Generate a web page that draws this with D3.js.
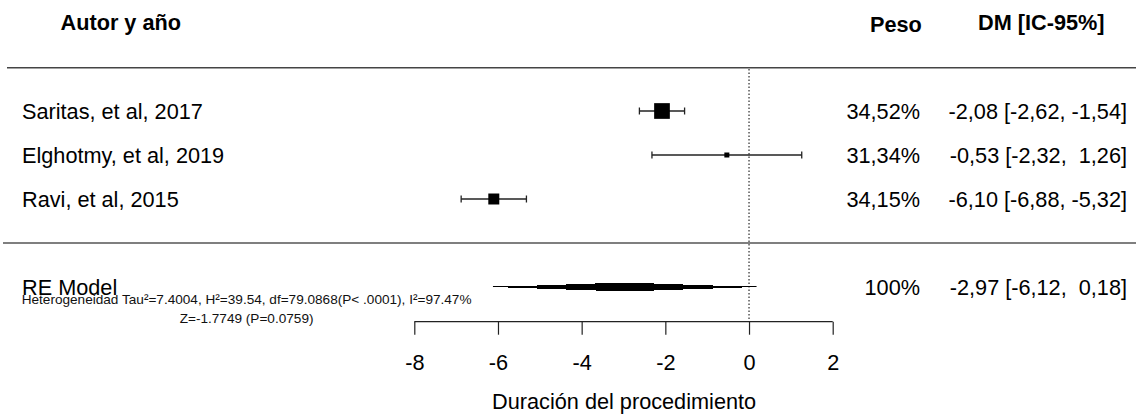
<!DOCTYPE html>
<html>
<meta charset="utf-8">
<head>
  <title>Duración del procedimiento - forest plot</title>
  <style>
    body, html { margin: 0; padding: 0; background: white; }
    svg text { font-family: 'Liberation Sans', Arial, sans-serif; fill: #000; white-space: pre; }
    .big { font-size: 21.7px; }
    .head { font-size: 21.7px; font-weight: 700; }
    .small { font-size: 13.6px; fill: #111; }
    .x_axis path, .x_axis line { stroke: #222; stroke-width: 1.2; }
    .x_axis text { font-size: 21.7px; font-family: 'Liberation Sans', Arial, sans-serif; }
  </style>
  <script src="https://d3js.org/d3.v7.min.js"></script>
</head>
<body>
<div id="chart"></div>
<script>
// study rows
var studies = ["Saritas, et al, 2017", "Elghotmy, et al, 2019", "Ravi, et al, 2015"];
var est     = [-2.08, -0.53, -6.10];
var lower   = [-2.62, -2.32, -6.88];
var upper   = [-1.54,  1.26, -5.32];
var weights = [34.52, 31.34, 34.15];

// random effects summary: estimate, lower, upper, weight
var re_label  = "RE Model";
var re_values = [-2.97, -6.12, 0.18];
var re_weight = 100;

var headers   = ["Autor y año", "Peso", "DM [IC-95%]"];
var x_ticks   = [-8, -6, -4, -2, 0, 2];
var x_title   = "Duración del procedimiento";
var het_text  = "Heterogeneidad Tau²=7.4004, H²=39.54, df=79.0868(P< .0001), I²=97.47%";
var z_text    = "Z=-1.7749 (P=0.0759)";

var W = 1136, H = 416;

// plain hyphen minus, comma decimal like the R output
var loc = d3.formatLocale({ decimal: ",", thousands: ".", grouping: [3], currency: ["", ""], minus: "-" });

var svg = d3.select("#chart").append("svg")
            .attr("width", W)
            .attr("height", H);

var x = d3.scaleLinear().domain([-8, 2]).range([414.3, 832.7]);
// row index -> y (index 3 is the separator, 4 the summary)
var y = d3.scaleLinear().domain([0, 4]).range([111, 287]);

var fmt2 = loc.format(".2f");
var fmt_ci = function(e, l, u) {
  return fmt2(e).padStart(5) + " [" + fmt2(l).padStart(5) + ", " + fmt2(u).padStart(5) + "]";
};
var fmt_w = function(w) {
  return (w === 100 ? "100" : fmt2(w)) + "%";
};

// marker size from precision
var prec = studies.map(function(d, i) { return 1 / (upper[i] - lower[i]); });
var size = d3.scaleLinear().domain(d3.extent(prec)).range([5, 15.7]);

// headers
svg.append("text").attr("class", "head").attr("x", 60.5).attr("y", 30).text(headers[0]);
svg.append("text").attr("class", "head").attr("x", 870).attr("y", 32).text(headers[1]);
svg.append("text").attr("class", "head").attr("x", 978).attr("y", 30).text(headers[2]);

// horizontal rules
svg.append("line").attr("x1", 7).attr("x2", W).attr("y1", 67.7).attr("y2", 67.7)
   .attr("stroke", "#444").attr("stroke-width", 1.5);
svg.append("line").attr("x1", 3).attr("x2", W).attr("y1", y(3)).attr("y2", y(3))
   .attr("stroke", "#555").attr("stroke-width", 1.5);

// reference line at 0
svg.append("line")
   .attr("x1", x(0)).attr("x2", x(0))
   .attr("y1", 69).attr("y2", 321.7)
   .attr("stroke", "#000").attr("stroke-width", 1)
   .attr("stroke-dasharray", "1.5,2");

// study labels
svg.selectAll(".lab").data(studies).enter().append("text")
   .attr("class", "big lab")
   .attr("x", 22).attr("y", function(d, i) { return y(i) + 8; })
   .text(function(d) { return d; });

// CI lines
var rows = svg.selectAll(".ci").data(studies).enter().append("g").attr("class", "ci");
rows.append("line")
    .attr("x1", function(d, i) { return x(lower[i]); })
    .attr("x2", function(d, i) { return x(upper[i]); })
    .attr("y1", function(d, i) { return y(i); })
    .attr("y2", function(d, i) { return y(i); })
    .attr("stroke", "#222").attr("stroke-width", 1.3);
[lower, upper].forEach(function(arr) {
  rows.append("line")
      .attr("x1", function(d, i) { return x(arr[i]); })
      .attr("x2", function(d, i) { return x(arr[i]); })
      .attr("y1", function(d, i) { return y(i) - 3.5; })
      .attr("y2", function(d, i) { return y(i) + 3.5; })
      .attr("stroke", "#222").attr("stroke-width", 1.3);
});
rows.append("rect")
    .attr("x", function(d, i) { return x(est[i]) - size(prec[i]) / 2; })
    .attr("y", function(d, i) { return y(i) - size(prec[i]) / 2; })
    .attr("width", function(d, i) { return size(prec[i]); })
    .attr("height", function(d, i) { return size(prec[i]); })
    .attr("fill", "#000");

// right columns
svg.selectAll(".wt").data(weights).enter().append("text")
   .attr("class", "big wt").attr("text-anchor", "end")
   .attr("x", 920).attr("y", function(d, i) { return y(i) + 8; })
   .text(function(d) { return fmt_w(d); });
svg.selectAll(".est").data(est).enter().append("text")
   .attr("class", "big est").attr("text-anchor", "end")
   .attr("x", 1127).attr("y", function(d, i) { return y(i) + 8; })
   .text(function(d, i) { return fmt_ci(est[i], lower[i], upper[i]); });

// summary row
var ys = y(4);
svg.append("line")
   .attr("x1", x(re_values[1])).attr("x2", x(re_values[2]))
   .attr("y1", ys - 0.5).attr("y2", ys - 0.5)
   .attr("stroke", "#000").attr("stroke-width", 1);
svg.append("polygon")
   .attr("points", [
     [x(re_values[1]), ys], [x(re_values[0]), ys - 4.5],
     [x(re_values[2]), ys], [x(re_values[0]), ys + 4.5]
   ].map(function(p) { return p.join(","); }).join(" "))
   .attr("fill", "#000")
   .attr("shape-rendering", "crispEdges");
svg.append("text").attr("class", "big").attr("x", 22).attr("y", ys + 8).text(re_label);
svg.append("text").attr("class", "big").attr("text-anchor", "end")
   .attr("x", 920).attr("y", ys + 8).text(fmt_w(re_weight));
svg.append("text").attr("class", "big").attr("text-anchor", "end")
   .attr("x", 1127).attr("y", ys + 8).text(fmt_ci(re_values[0], re_values[1], re_values[2]));

// heterogeneity text
svg.append("text").attr("class", "small").attr("text-anchor", "middle")
   .attr("x", 246.6).attr("y", 304).text(het_text);
svg.append("text").attr("class", "small").attr("text-anchor", "middle")
   .attr("x", 246.6).attr("y", 323).text(z_text);

// x axis
var x_axis = d3.axisBottom(x).tickValues(x_ticks).tickSize(13).tickPadding(20)
               .tickFormat(loc.format("d"));
var gx = svg.append("g").attr("class", "x_axis")
            .attr("transform", "translate(0,321.7)")
            .call(x_axis);
gx.select(".domain").attr("d", "M" + x(-8) + ",0H" + x(2));
gx.selectAll("text").style("fill", "#000");

svg.append("text").attr("class", "big").attr("text-anchor", "middle")
   .attr("x", (x(-8) + x(2)) / 2 + 0.6).attr("y", 409).text(x_title);
</script>
</body>
</html>
